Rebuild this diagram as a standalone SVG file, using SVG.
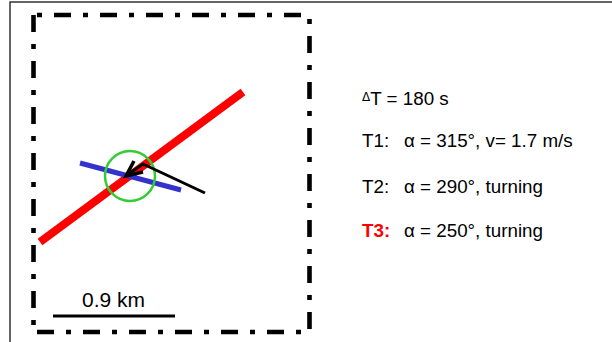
<svg xmlns="http://www.w3.org/2000/svg" width="612" height="342" viewBox="0 0 612 342">
<style>
text{font-family:"Liberation Sans",Arial,sans-serif;fill:#000}
.t{font-size:18.8px}
.sym{font-family:"DejaVu Sans","Liberation Sans",sans-serif}
.fr{stroke:#000;stroke-width:4.6;stroke-dasharray:17 12 5 12;fill:none}
</style>
<rect width="612" height="342" fill="#fff"/>
<path d="M10,342 V2 H612" fill="none" stroke="#333" stroke-width="1.5"/>
<g id="frame">
<line class="fr" x1="33" y1="15" x2="311" y2="15" stroke-dashoffset="25"/>
<line class="fr" x1="33.5" y1="15" x2="33.5" y2="334"/>
<line class="fr" x1="309.5" y1="15" x2="309.5" y2="334" stroke-dashoffset="25"/>
<line class="fr" x1="33" y1="332" x2="311" y2="332" stroke-dashoffset="42"/>
</g>
<g id="red-track"><line x1="40" y1="242" x2="243" y2="92" stroke="#f00" stroke-width="8"/></g>
<g id="blue-track"><line x1="80" y1="163" x2="181" y2="190" stroke="#3333cc" stroke-width="5"/></g>
<g id="circle"><circle cx="130" cy="176" r="25" fill="none" stroke="#33cc33" stroke-width="2.5"/></g>
<g id="connectors">
<polyline points="205,193 143,164 127,175" fill="none" stroke="#000" stroke-width="3" stroke-linejoin="round"/>
<polyline points="134,161 126,176 143,172" fill="none" stroke="#000" stroke-width="3.5" stroke-linejoin="miter"/>
</g>
<g id="scale">
<line x1="53" y1="316" x2="175" y2="316" stroke="#000" stroke-width="3"/>
<text x="82" y="307" font-size="21">0.9 km</text>
</g>
<g id="legend">
<text x="362" y="105" class="t"><tspan font-size="12" dy="-4" class="sym">Δ</tspan><tspan dy="4">T = 180 s</tspan></text>
<text x="362" y="147" class="t">T1:</text>
<text x="404" y="147" class="t">α = 315°, v= 1.7 m/s</text>
<text x="362" y="193" class="t">T2:</text>
<text x="404" y="193" class="t">α = 290°, turning</text>
<text x="362" y="237" class="t" style="fill:#f00;font-weight:bold">T3:</text>
<text x="404" y="237" class="t">α = 250°, turning</text>
</g>
</svg>
